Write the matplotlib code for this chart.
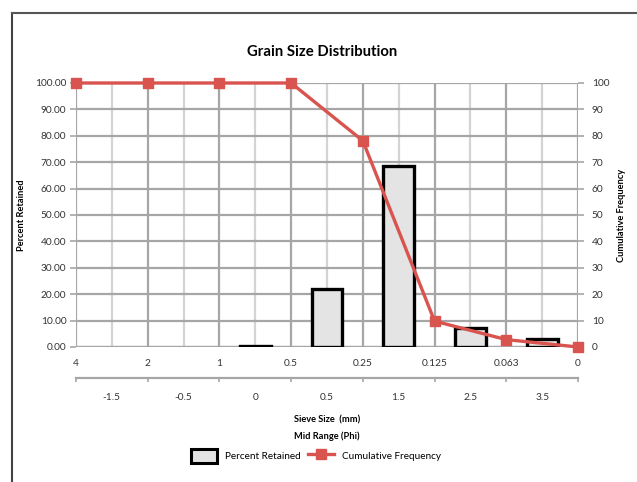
import matplotlib
matplotlib.use("Agg")
import matplotlib.pyplot as plt
from matplotlib.lines import Line2D
from matplotlib.patches import Rectangle
import numpy as np

plt.rcParams['font.family'] = ['Lato', 'DejaVu Sans']

sieve_sizes = ['4', '2', '1', '0.5', '0.25', '0.125', '0.063', '0']
phi_mid = ['-1.5', '-0.5', '0', '0.5', '1.5', '2.5', '3.5']
percent_retained = [0.0, 0.0, 0.4, 21.8, 68.6, 7.3, 3.0]
cumulative_freq = [100, 100, 100, 100, 78.1, 9.8, 2.8, 0]

W, H = 637, 482
fig = plt.figure(figsize=(W / 100, H / 100), dpi=100)

ax = fig.add_axes([76 / W, 1 - 347 / H, (578 - 76) / W, (347 - 83) / H])
bounds = np.arange(len(sieve_sizes))
mids = np.arange(len(phi_mid)) + 0.5

grid_dark = '#a6a6a6'
grid_light = '#d4d4d4'

ax.set_xlim(0, len(sieve_sizes) - 1)
ax.set_ylim(0, 100)
ax.set_yticks(np.arange(0, 101, 10))
ax.set_yticklabels([f'{v:.2f}' for v in range(0, 101, 10)])
ax.set_xticks(bounds)
ax.set_xticklabels(sieve_sizes)
ax.set_xticks(mids, minor=True)
ax.tick_params(axis='x', which='minor', length=0)
ax.tick_params(axis='x', which='major', length=0, pad=9, labelsize=7.3, colors='#333333')
ax.tick_params(axis='y', length=4, width=1.2, color=grid_dark, labelsize=7.3,
               labelcolor='#333333', pad=3)
ax.grid(axis='y', color=grid_dark, lw=1.6)
ax.grid(axis='x', which='major', color=grid_dark, lw=1.6)
ax.grid(axis='x', which='minor', color=grid_light, lw=1.6)
ax.set_axisbelow(True)
for s in ax.spines.values():
    s.set_visible(False)
ax.axhline(0, color=grid_dark, lw=1.6, zorder=1)

# empty size classes get no bar at all
vals = np.array(percent_retained)
keep = vals > 0
ax.bar(mids[keep], vals[keep], width=0.43, facecolor='#e4e4e4',
       edgecolor='black', linewidth=2.4, zorder=2, label='Percent Retained')

# second tier of x labels: phi midpoints
sec = ax.secondary_xaxis(-31 / 264)
sec.set_xticks(bounds)
sec.set_xticklabels([''] * len(bounds))
sec.set_xticks(mids, minor=True)
sec.set_xticklabels(phi_mid, minor=True)
sec.tick_params(axis='x', which='major', length=3, width=1.2, color=grid_dark)
sec.tick_params(axis='x', which='minor', length=0, pad=11, labelsize=7.3,
                colors='#333333')
sec.spines['bottom'].set_color(grid_dark)
sec.spines['bottom'].set_linewidth(1.6)

ax2 = ax.twinx()
ax2.set_ylim(0, 100)
ax2.set_yticks(np.arange(0, 101, 10))
ax2.tick_params(axis='y', length=4, width=1.2, color=grid_dark, labelsize=7.3,
                labelcolor='#333333', pad=6)
for s in ax2.spines.values():
    s.set_visible(False)
ax2.plot(bounds, cumulative_freq, color='#d9534f', lw=2.4, marker='s',
         markersize=7, zorder=3, clip_on=False, label='Cumulative Frequency')

fig.text(322 / W, 1 - 52 / H, 'Grain Size Distribution', ha='center', va='center',
         fontsize=10.7, fontweight='bold')
fig.text(22 / W, 1 - 215 / H, 'Percent Retained', rotation=90, ha='center',
         va='center', fontsize=6.7, fontweight='bold')
fig.text(622 / W, 1 - 215 / H, 'Cumulative Frequency', rotation=90, ha='center',
         va='center', fontsize=6.7, fontweight='bold')
fig.text(327 / W, 1 - 420 / H, 'Sieve Size  (mm)', ha='center', va='center',
         fontsize=6.7, fontweight='bold')
fig.text(327 / W, 1 - 436 / H, 'Mid Range (Phi)', ha='center', va='center',
         fontsize=6.7, fontweight='bold')

handles = [Rectangle((0, 0), 1, 1, facecolor='#e4e4e4', edgecolor='black', lw=2.2),
           Line2D([], [], color='#d9534f', lw=2.4, marker='s', markersize=7)]
fig.legend(handles, ['Percent Retained', 'Cumulative Frequency'],
           loc='center', bbox_to_anchor=(316 / W, 1 - 456 / H), ncol=2,
           frameon=False, fontsize=7.2, handlelength=2.6, handleheight=1.9,
           columnspacing=0.8, handletextpad=0.8)

# chart frame edges
fig.add_artist(Line2D([11.5 / W, 11.5 / W], [0, 1 - 12.5 / H], color='#444444',
                      lw=1.5, transform=fig.transFigure))
fig.add_artist(Line2D([11.5 / W, 1], [1 - 12.5 / H, 1 - 12.5 / H], color='#555555',
                      lw=1.5, transform=fig.transFigure))

fig.savefig('out.png', dpi=100)
